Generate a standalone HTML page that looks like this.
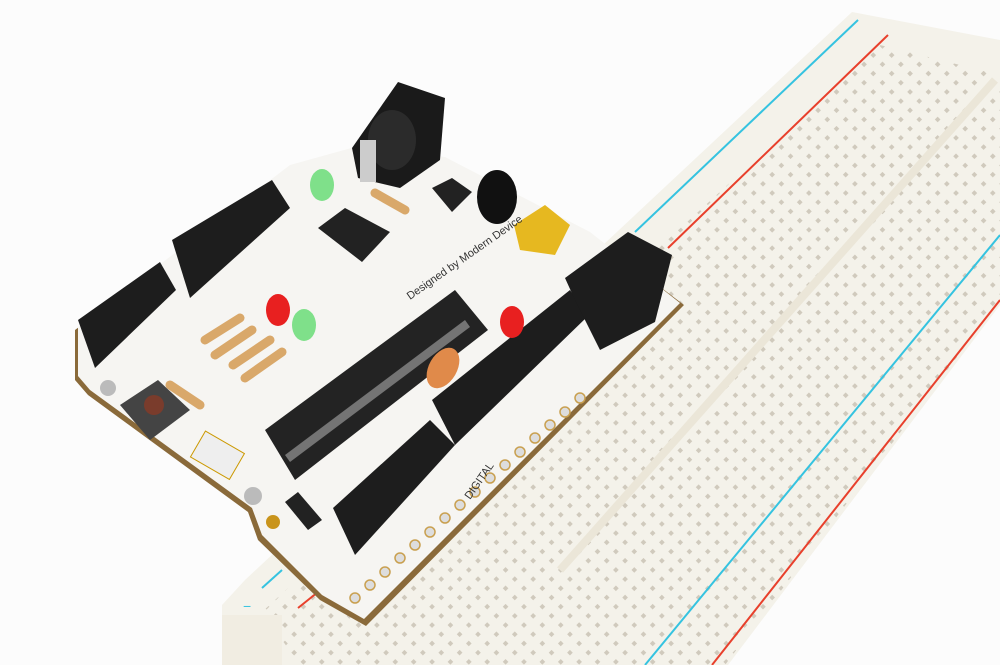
<!DOCTYPE html>
<html><head><meta charset="utf-8"><style>
html,body{margin:0;padding:0;background:#fff;width:1000px;height:665px;overflow:hidden}
svg{display:block}
text{font-family:"Liberation Sans",sans-serif}
</style></head><body>
<svg width="1000" height="665" viewBox="0 0 1000 665">
<defs>
<pattern id="holes" width="13" height="13" patternUnits="userSpaceOnUse" patternTransform="rotate(-45)">
<rect x="4.5" y="4.5" width="4" height="4" fill="#b3aa98"/>
</pattern>
</defs>
<rect width="1000" height="665" fill="#fcfcfc"/>
<!-- breadboard -->
<polygon points="852,12 1000,40 1000,305 728,665 240,665 222,640 222,605 245,580" fill="#f4f2ea"/>
<polygon points="880,45 1000,75 1000,300 725,665 300,665 262,612" fill="url(#holes)" opacity="0.55"/>
<line x1="995" y1="80" x2="560" y2="570" stroke="#ebe6d8" stroke-width="8"/>
<line x1="858" y1="20" x2="635" y2="232" stroke="#35c3e0" stroke-width="2"/>
<line x1="888" y1="35" x2="668" y2="248" stroke="#e8402c" stroke-width="2"/>
<line x1="1000" y1="235" x2="645" y2="665" stroke="#35c3e0" stroke-width="2"/>
<line x1="1000" y1="300" x2="712" y2="665" stroke="#e8402c" stroke-width="2"/>
<line x1="262" y1="588" x2="282" y2="570" stroke="#35c3e0" stroke-width="2"/>
<line x1="298" y1="608" x2="318" y2="592" stroke="#e8402c" stroke-width="2"/>
<text x="243" y="611" fill="#35c3e0" font-size="14">−</text>
<text x="267" y="636" fill="#e8402c" font-size="16">+</text>
<rect x="222" y="615" width="60" height="50" fill="#f1ede2"/>
<!-- PCB -->
<polygon points="75,330 290,168 355,150 445,160 592,235 684,305 366,626 320,600 258,540 248,512 88,395 75,380" fill="#8a6a3a"/>
<polygon points="78,327 290,165 355,147 445,157 590,232 680,303 364,619 322,595 262,535 252,508 90,390 78,376" fill="#f6f5f2"/>
<!-- DC jack -->
<polygon points="352,148 398,82 445,98 440,160 400,188 358,178" fill="#1a1a1a"/>
<ellipse cx="392" cy="140" rx="24" ry="30" fill="#2b2b2b"/>
<rect x="360" y="140" width="16" height="42" fill="#ccc"/>
<!-- left headers -->
<polygon points="78,320 160,262 176,290 95,368" fill="#1d1d1d"/>
<polygon points="172,240 272,180 290,208 190,298" fill="#1d1d1d"/>
<!-- SMD chip -->
<polygon points="318,228 345,208 390,232 362,262" fill="#222"/>
<polygon points="432,188 452,178 472,192 452,212" fill="#222"/>
<!-- capacitor -->
<ellipse cx="497" cy="197" rx="20" ry="27" fill="#111"/>
<!-- USB -->
<polygon points="514,225 545,205 570,225 555,255 520,250" fill="#e6b820"/>
<!-- ATmega chip -->
<polygon points="265,430 455,290 488,330 295,480" fill="#232323"/>
<polygon points="285,455 465,320 470,327 290,462" fill="#aaa" opacity="0.6"/>
<!-- orange cap -->
<ellipse cx="443" cy="368" rx="14" ry="22" fill="#e08a4a" transform="rotate(30 443 368)"/>
<!-- long headers -->
<polygon points="432,400 570,290 588,316 455,445" fill="#1d1d1d"/>
<polygon points="333,508 430,420 455,445 355,555" fill="#1d1d1d"/>
<polygon points="565,278 628,232 672,255 655,322 600,350 575,300" fill="#1d1d1d"/>
<!-- LEDs -->
<ellipse cx="322" cy="185" rx="12" ry="16" fill="#7fe08a"/>
<ellipse cx="278" cy="310" rx="12" ry="16" fill="#e82020"/>
<ellipse cx="304" cy="325" rx="12" ry="16" fill="#7fe08a"/>
<ellipse cx="512" cy="322" rx="12" ry="16" fill="#e82020"/>
<!-- resistors -->
<g stroke="#d9a86a" stroke-width="9" stroke-linecap="round">
<line x1="205" y1="340" x2="240" y2="318"/><line x1="215" y1="355" x2="252" y2="330"/>
<line x1="233" y1="365" x2="270" y2="340"/><line x1="245" y1="378" x2="282" y2="352"/>
<line x1="170" y1="385" x2="200" y2="405"/><line x1="375" y1="193" x2="405" y2="210"/>
</g>
<!-- button -->
<polygon points="120,405 158,380 190,410 150,440" fill="#444"/>
<circle cx="154" cy="405" r="10" fill="#7a3c2c"/>
<!-- ICSP -->
<rect x="195" y="440" width="45" height="30" fill="#eee" stroke="#c90" transform="rotate(30 217 455)"/>
<!-- diode -->
<polygon points="285,502 298,492 322,520 308,530" fill="#222"/>
<circle cx="108" cy="388" r="8" fill="#bbb"/>
<circle cx="253" cy="496" r="9" fill="#bbb"/>
<circle cx="273" cy="522" r="7" fill="#c9941c"/>
<g fill="#ddd" stroke="#c9a050" stroke-width="1.5">
<circle cx="355" cy="598" r="5"/><circle cx="370" cy="585" r="5"/><circle cx="385" cy="572" r="5"/><circle cx="400" cy="558" r="5"/><circle cx="415" cy="545" r="5"/><circle cx="430" cy="532" r="5"/><circle cx="445" cy="518" r="5"/><circle cx="460" cy="505" r="5"/><circle cx="475" cy="492" r="5"/><circle cx="490" cy="478" r="5"/><circle cx="505" cy="465" r="5"/><circle cx="520" cy="452" r="5"/><circle cx="535" cy="438" r="5"/><circle cx="550" cy="425" r="5"/><circle cx="565" cy="412" r="5"/><circle cx="580" cy="398" r="5"/>
</g>
<text x="410" y="300" font-size="11" fill="#333" transform="rotate(-35 410 300)">Designed by Modern Device</text>
<text x="470" y="500" font-size="11" fill="#333" transform="rotate(-55 470 500)">DIGITAL</text>
</svg>
</body></html>
